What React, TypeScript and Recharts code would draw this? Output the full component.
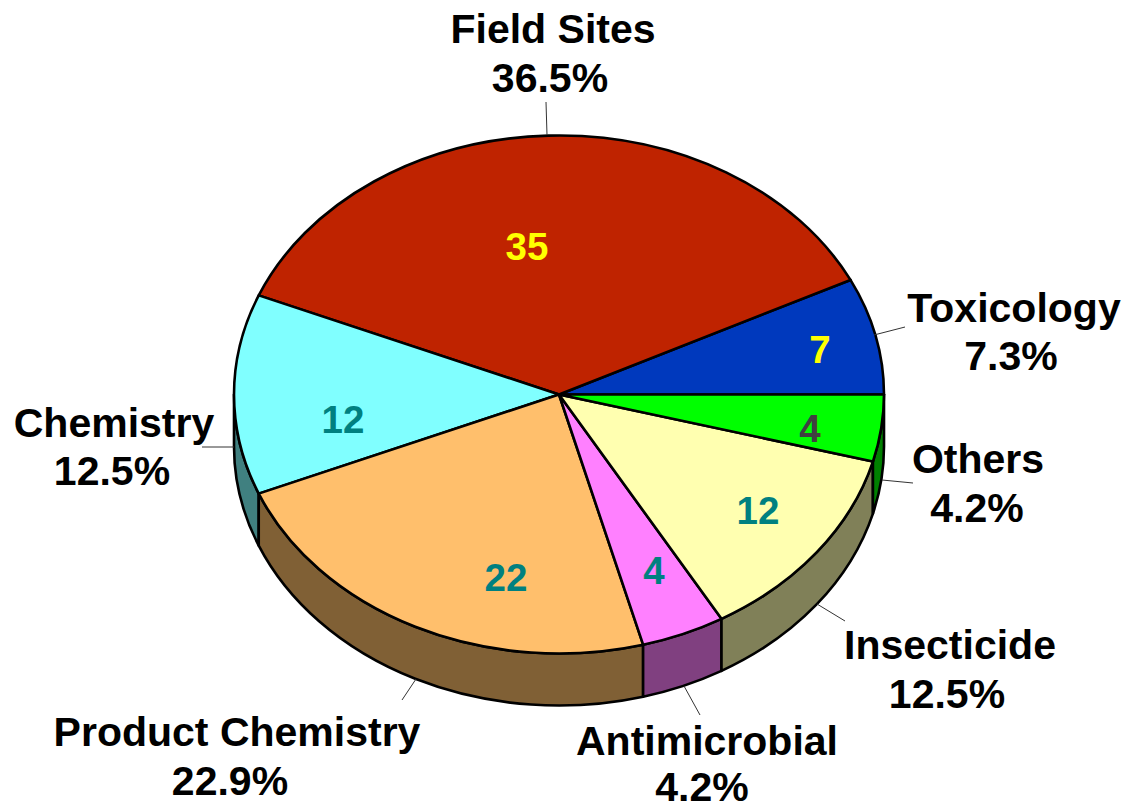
import { Pie, PieChart } from "recharts";

const WIDTH = 1127;
const HEIGHT = 804;
const FONT = "'Liberation Sans', Arial, sans-serif";

// chart values, in drawing order (counter-clockwise from 3 o'clock)
const CATEGORIES = ["Toxicology", "Field Sites", "Chemistry", "Product Chemistry", "Antimicrobial", "Insecticide", "Others"];
const COUNTS = [7, 35, 12, 22, 4, 12, 4];
const PERCENTS = ["7.3%", "36.5%", "12.5%", "22.9%", "4.2%", "12.5%", "4.2%"];

const TOP_COLORS = ["#0039BD", "#BF2300", "#80FFFF", "#FFBF6C", "#FF80FF", "#FFFFB0", "#00FF00"];
const WALL_COLORS = ["#001D5E", "#601100", "#408080", "#806035", "#804080", "#808058", "#008000"];
const COUNT_COLORS = ["#FFFF00", "#FFFF00", "#008080", "#008080", "#008080", "#008080", "#404040"];

// hand placed, same order as CATEGORIES: name x/baseline, percent x/baseline
const NAME_POS = [[1014, 322], [553, 43], [114, 437], [237, 746], [707, 755], [950, 659], [978, 473]];
const PERCENT_POS = [[1011, 370], [550, 92], [112, 485], [230, 795], [702, 801], [947, 708], [977, 522]];
const COUNT_POS = [[820, 363], [527, 260], [343, 433], [506, 591], [654, 584], [758, 524], [810, 442]];
const LEADERS = [
  [874, 335, 905, 327],
  [547, 135, 546, 102],
  [234, 447, 202, 447],
  [416, 679, 402, 700],
  [684, 686, 700, 715],
  [817, 604, 845, 621],
  [882, 480, 913, 483],
];

const SQUASH = 0.797;
const DEPTH = 52;

const data = CATEGORIES.map((name, i) => ({ name, value: COUNTS[i] }));

function rimPoint(cx: number, cy: number, r: number, deg: number) {
  const rad = (deg * Math.PI) / 180;
  return [cx + r * Math.cos(rad), cy - r * SQUASH * Math.sin(rad)];
}

function TopSlice(props: any) {
  const { cx, cy, outerRadius: r, startAngle, endAngle, index } = props;
  const [x0, y0] = rimPoint(cx, cy, r, startAngle);
  const [x1, y1] = rimPoint(cx, cy, r, endAngle);
  const large = endAngle - startAngle > 180 ? 1 : 0;
  const d = `M${cx},${cy}L${x0},${y0}A${r},${r * SQUASH} 0 ${large} 0 ${x1},${y1}Z`;
  return <path d={d} fill={TOP_COLORS[index]} stroke="#000" strokeWidth={2.6} strokeLinejoin="round" />;
}

// side wall, only the part on the front half of the disc is visible
function WallSlice(props: any) {
  const { cx, cy, outerRadius: r, startAngle, endAngle, index } = props;
  const a0 = Math.max(startAngle, 180);
  const a1 = Math.min(endAngle, 360);
  if (a1 <= a0) return null;
  const [x0, y0] = rimPoint(cx, cy, r, a0);
  const [x1, y1] = rimPoint(cx, cy, r, a1);
  const ry = r * SQUASH;
  const d = `M${x0},${y0}A${r},${ry} 0 0 0 ${x1},${y1}L${x1},${y1 + DEPTH}A${r},${ry} 0 0 1 ${x0},${y0 + DEPTH}Z`;
  return <path d={d} fill={WALL_COLORS[index]} stroke="#000" strokeWidth={2.6} strokeLinejoin="round" />;
}

function SliceLabel(props: any) {
  const i = props.index;
  const [lx0, ly0, lx1, ly1] = LEADERS[i];
  const text = { fontFamily: FONT, fontWeight: 700, textAnchor: "middle" as const };
  return (
    <g>
      <line x1={lx0} y1={ly0} x2={lx1} y2={ly1} stroke="#333" strokeWidth={1} />
      <text {...text} x={NAME_POS[i][0]} y={NAME_POS[i][1]} fontSize={41} fill="#000">
        {CATEGORIES[i]}
      </text>
      <text {...text} x={PERCENT_POS[i][0]} y={PERCENT_POS[i][1]} fontSize={41} fill="#000">
        {PERCENTS[i]}
      </text>
      <text {...text} x={COUNT_POS[i][0]} y={COUNT_POS[i][1]} fontSize={38.5} fill={COUNT_COLORS[i]}>
        {COUNTS[i]}
      </text>
    </g>
  );
}

export default function App() {
  return (
    <div style={{ position: "absolute", left: 0, top: 0, width: WIDTH, height: HEIGHT, background: "#fff" }}>
      <PieChart width={WIDTH} height={HEIGHT} margin={{ top: 0, right: 0, bottom: 0, left: 0 }}>
        <Pie
          data={data}
          dataKey="value"
          cx={559}
          cy={394.5}
          outerRadius={325}
          startAngle={0}
          endAngle={360}
          shape={WallSlice}
          isAnimationActive={false}
        />
        <Pie
          data={data}
          dataKey="value"
          cx={559}
          cy={394.5}
          outerRadius={325}
          startAngle={0}
          endAngle={360}
          shape={TopSlice}
          label={SliceLabel}
          labelLine={false}
          isAnimationActive={false}
        />
      </PieChart>
    </div>
  );
}
